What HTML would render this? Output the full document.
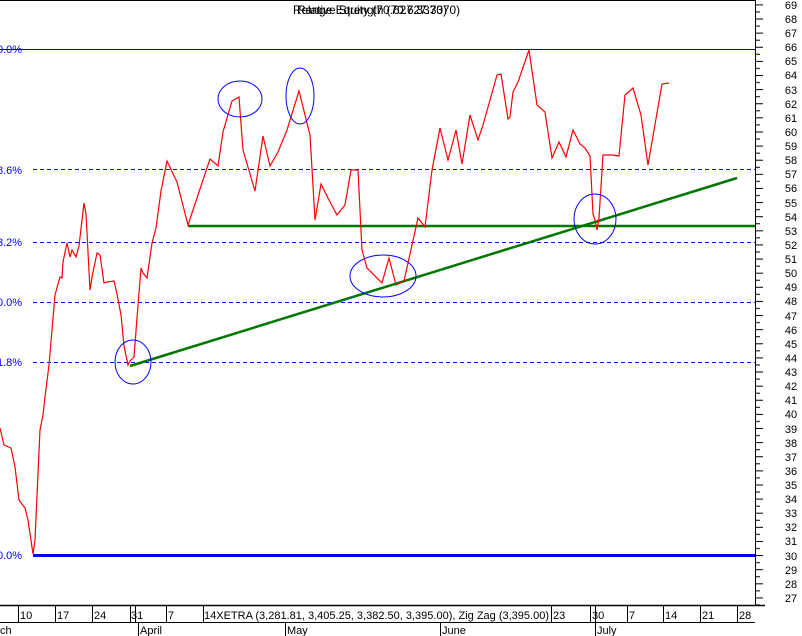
<!DOCTYPE html>
<html><head><style>
body{margin:0;background:#fff;}
svg{display:block;font-family:"Liberation Sans",sans-serif;}
</style></head><body>
<svg width="802" height="636" viewBox="0 0 802 636" xmlns="http://www.w3.org/2000/svg">
<defs>
<pattern id="tk" patternUnits="userSpaceOnUse" x="755" y="4.4" width="10" height="14.12">
<rect x="0" y="0" width="8" height="1" fill="#000"/>
<rect x="0" y="7.06" width="5" height="1" fill="#000"/>
</pattern>
</defs>
<rect width="802" height="636" fill="#fff"/>
<line x1="0" y1="0.5" x2="755" y2="0.5" stroke="#000"/>
<line x1="755.5" y1="0" x2="755.5" y2="606" stroke="#000"/>
<rect x="755" y="0" width="10" height="605" fill="url(#tk)"/>
<g font-size="11" fill="#000" text-anchor="middle">
<text x="791" y="602">27</text><text x="791" y="588">28</text><text x="791" y="574">29</text><text x="791" y="560">30</text><text x="791" y="545">31</text><text x="791" y="531">32</text><text x="791" y="517">33</text><text x="791" y="503">34</text><text x="791" y="489">35</text><text x="791" y="475">36</text><text x="791" y="461">37</text><text x="791" y="447">38</text><text x="791" y="433">39</text><text x="791" y="418">40</text><text x="791" y="404">41</text><text x="791" y="390">42</text><text x="791" y="376">43</text><text x="791" y="362">44</text><text x="791" y="348">45</text><text x="791" y="334">46</text><text x="791" y="320">47</text><text x="791" y="305">48</text><text x="791" y="291">49</text><text x="791" y="277">50</text><text x="791" y="263">51</text><text x="791" y="249">52</text><text x="791" y="235">53</text><text x="791" y="221">54</text><text x="791" y="207">55</text><text x="791" y="192">56</text><text x="791" y="178">57</text><text x="791" y="164">58</text><text x="791" y="150">59</text><text x="791" y="136">60</text><text x="791" y="122">61</text><text x="791" y="108">62</text><text x="791" y="94">63</text><text x="791" y="79">64</text><text x="791" y="65">65</text><text x="791" y="51">66</text><text x="791" y="37">67</text><text x="791" y="23">68</text><text x="791" y="9">69</text>
</g>
<line x1="0" y1="49.5" x2="755" y2="49.5" stroke="#0000cc" stroke-width="1"/>
<g stroke="#0000ff" stroke-dasharray="4,3" stroke-width="1">
<line x1="33" y1="169.5" x2="755" y2="169.5"/>
<line x1="33" y1="242.5" x2="755" y2="242.5"/>
<line x1="33" y1="302.5" x2="755" y2="302.5"/>
<line x1="33" y1="362.5" x2="755" y2="362.5"/>
</g>
<line x1="33" y1="555.5" x2="755" y2="555.5" stroke="#0000ff" stroke-width="3"/>
<g fill="#0000ff" font-size="11">
<text x="-3" y="53">0.0%</text>
<text x="-3" y="174">8.6%</text>
<text x="-3" y="246">3.2%</text>
<text x="-3" y="306">0.0%</text>
<text x="-3" y="366">1.8%</text>
<text x="-3" y="559">0.0%</text>
</g>
<line x1="188" y1="226" x2="755" y2="226" stroke="#007700" stroke-width="2.5"/>
<line x1="130" y1="366" x2="737" y2="178" stroke="#007700" stroke-width="2.5"/>
<polyline fill="none" stroke="#ff0000" stroke-width="1.2" points="0,428 4,445 11,448 15,467 19,500 25,508 28,520 33,554 35,540 40,430 43,415 45,397 49,365 52,330 55,295 60,277 62,278 63,262 67,243 70,257 72,250 76,257 79,246 84,203 86,214 90,290 92,277 97,253 100,255 104,283 107,282 114,281 117,294 121,315 124,346 128,365 130,361 134,357 137,318 141,268 143,273 147,278 152,243 156,228 161,191 167,161 177,182 188,225 210,159 218,166 223,132 232,101 239,97 243,150 255,191 263,136 270,166 278,152 287,130 299,91 310,135 315,220 321,184 329,200 337,215 345,205 351,170 358,170 362,250 367,268 382,283 389,258 396,285 404,281 418,218 425,227 432,170 440,128 448,160 456,130 462,164 470,115 478,140 483,125 497,75 501,74 508,119 510,117 513,92 518,82 529,50 537,105 545,112 552,158 559,142 566,157 573,130 580,144 585,148 590,156 593,214 595,220 597,230 599,218 603,155 613,155 619,156 625,95 633,88 641,115 648,165 662,84 669,83"/>
<g fill="none" stroke="#0000ff" stroke-width="1">
<ellipse cx="133" cy="362" rx="18" ry="22"/>
<ellipse cx="240" cy="99" rx="22" ry="18"/>
<ellipse cx="300" cy="96" rx="14" ry="28"/>
<ellipse cx="383" cy="276" rx="33" ry="21"/>
<ellipse cx="595" cy="219" rx="21" ry="25"/>
</g>
<g font-size="12" fill="#000">
<text x="293" y="14" textLength="167" lengthAdjust="spacingAndGlyphs">Relative Strength (70.627.3370)</text>
<text x="297" y="14" textLength="150" lengthAdjust="spacingAndGlyphs">Range Equity (70.627.3370)</text>
</g>
<line x1="0" y1="605.5" x2="765" y2="605.5" stroke="#000" stroke-width="1.5"/>
<line x1="0" y1="622.5" x2="755" y2="622.5" stroke="#000"/>
<g stroke="#000">
<line x1="18.5" y1="606" x2="18.5" y2="622"/><line x1="55.5" y1="606" x2="55.5" y2="622"/>
<line x1="92.5" y1="606" x2="92.5" y2="622"/><line x1="130.5" y1="606" x2="130.5" y2="622"/>
<line x1="135.5" y1="606" x2="135.5" y2="622"/><line x1="166.5" y1="606" x2="166.5" y2="622"/>
<line x1="203.5" y1="606" x2="203.5" y2="622"/><line x1="551.5" y1="606" x2="551.5" y2="622"/>
<line x1="590.5" y1="606" x2="590.5" y2="622"/><line x1="595.5" y1="606" x2="595.5" y2="622"/>
<line x1="627.5" y1="606" x2="627.5" y2="622"/><line x1="663.5" y1="606" x2="663.5" y2="622"/>
<line x1="700.5" y1="606" x2="700.5" y2="622"/><line x1="737.5" y1="606" x2="737.5" y2="622"/>
<line x1="138.5" y1="623" x2="138.5" y2="636"/><line x1="285.5" y1="623" x2="285.5" y2="636"/>
<line x1="440.5" y1="623" x2="440.5" y2="636"/><line x1="595.5" y1="623" x2="595.5" y2="636"/>
</g>
<g font-size="11" fill="#000">
<text x="20" y="619">10</text><text x="57" y="619">17</text><text x="94" y="619">24</text>
<text x="131" y="619">31</text><text x="168" y="619">7</text>
<text x="204" y="619" textLength="345" lengthAdjust="spacingAndGlyphs">14XETRA (3,281.81, 3,405.25, 3,382.50, 3,395.00), Zig Zag (3,395.00)</text>
<text x="553" y="619">23</text><text x="592" y="619">30</text><text x="629" y="619">7</text>
<text x="665" y="619">14</text><text x="702" y="619">21</text><text x="739" y="619">28</text>
<text x="0" y="634">ch</text><text x="140" y="634">April</text><text x="287" y="634">May</text>
<text x="442" y="634">June</text><text x="597" y="634">July</text>
</g>
</svg>
</body></html>
